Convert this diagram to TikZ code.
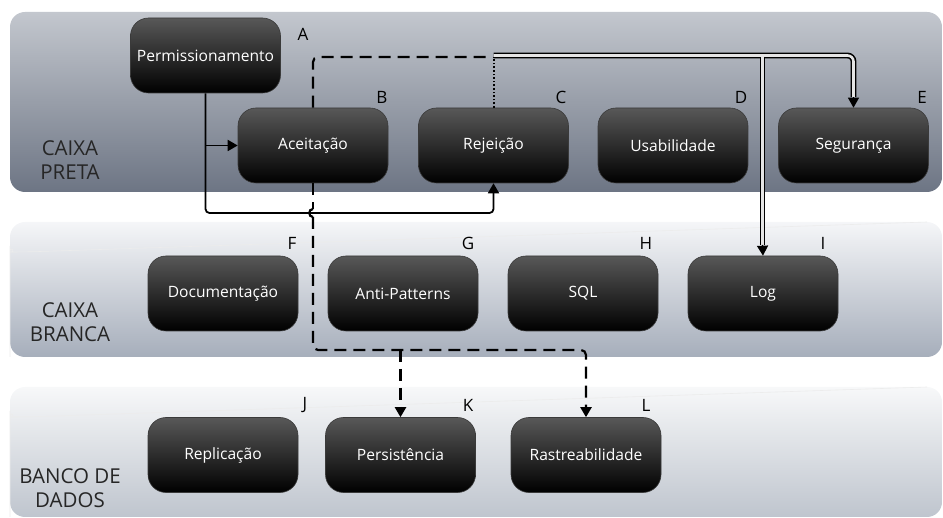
\documentclass[tikz,border=0pt]{standalone}
\usepackage{fontspec}
\setmainfont{Open Sans}
\usetikzlibrary{arrows.meta}
\definecolor{bandAtop}{HTML}{C3C7CE}
\definecolor{bandAbot}{HTML}{6D7584}
\definecolor{bandBtop}{HTML}{F5F6F8}
\definecolor{bandBbot}{HTML}{A6AEBB}
\definecolor{bandCtop}{HTML}{F7F8F9}
\definecolor{bandCbot}{HTML}{BFC5CE}
\definecolor{boxtop}{HTML}{585858}
\definecolor{boxmid}{HTML}{1A1A1A}
\definecolor{boxedge}{HTML}{3A3A3A}
\begin{document}
\begin{tikzpicture}[x=1pt,y=-1pt,
  stepbox/.style={rectangle, rounded corners=18pt, minimum width=150pt, minimum height=75pt,
    top color=boxtop, middle color=boxmid, bottom color=black, draw=boxedge, line width=0.6pt,
    text=white, font=\fontsize{15.6}{18}\selectfont, inner sep=0pt},
  letter/.style={font=\fontsize{17}{19}\selectfont, text=black, inner sep=0pt},
  bandlbl/.style={font=\fontsize{20.5}{24}\selectfont, align=center, text=black!85, inner sep=0pt},
  conn/.style={line width=1.8pt, rounded corners=4pt},
  dconn/.style={line width=2.2pt, dash pattern=on 12pt off 7pt, rounded corners=5pt},
  tip/.style={-{Triangle[length=10pt,width=11pt]}},
  dbl/.style={double=white!80!gray, double distance=2.6pt, line width=1.6pt, rounded corners=6pt}
]
\useasboundingbox (0,0) rectangle (943,518);
% bands
\shade[top color=bandAtop, bottom color=bandAbot, rounded corners=15pt] (10,12) rectangle (942,192);
\shade[top color=bandBtop, bottom color=bandBbot, rounded corners=15pt] (10,222) rectangle (942,357);
\shade[top color=bandCtop, bottom color=bandCbot, rounded corners=15pt] (10,387) rectangle (942,517);
\draw[white!85!gray, line width=0.6pt, rounded corners=15pt] (10,357) -- (10,237) arc[start angle=180,end angle=90,radius=15] -- (927,222);
\draw[white!85!gray, line width=0.6pt, rounded corners=15pt] (10,517) -- (10,402) arc[start angle=180,end angle=90,radius=15] -- (927,387);

\node[bandlbl] (lblA) at (70,160) {CAIXA\\PRETA};
\node[bandlbl] (lblB) at (70,322) {CAIXA\\BRANCA};
\node[bandlbl] (lblC) at (70,488) {BANCO DE\\DADOS};

% boxes
\node[stepbox] (perm) at (205.5,55.5) {Permissionamento};
\node[stepbox] (acei) at (313,145.5) {Aceitação};
\node[stepbox] (rej) at (493.5,145.5) {Rejeição};
\node[stepbox] (usab) at (673,145.5) {Usabilidade};
\node[stepbox] (seg) at (853.5,145.5) {Segurança};
\node[stepbox] (doc) at (223,293.5) {Documentação};
\node[stepbox] (anti) at (403,293.5) {Anti-Patterns};
\node[stepbox] (sql) at (583,293.5) {SQL};
\node[stepbox] (log) at (763,293.5) {Log};
\node[stepbox] (repl) at (223,455) {Replicação};
\node[stepbox] (pers) at (400.5,455) {Persistência};
\node[stepbox] (rast) at (586,455) {Rastreabilidade};

% letters
\node[letter] (lA) at (303,34) {A};
\node[letter] (lB) at (382,97) {B};
\node[letter] (lC) at (561,97) {C};
\node[letter] (lD) at (741,97) {D};
\node[letter] (lE) at (922,97) {E};
\node[letter] (lF) at (292,243) {F};
\node[letter] (lG) at (468,243) {G};
\node[letter] (lH) at (646,243) {H};
\node[letter] (lI) at (823,243) {I};
\node[letter] (lJ) at (305,405) {J};
\node[letter] (lK) at (468,405) {K};
\node[letter] (lL) at (646,405) {L};

% coordinates
\coordinate (pdown) at (205.5,213);
\coordinate (rdown) at (493.5,213);
\coordinate (dtop) at (313,57);
\coordinate (dend) at (490,57);
\coordinate (hopA) at (313,209);
\coordinate (hopB) at (313,217);
\coordinate (dbot) at (313,350);
\coordinate (dright) at (586,350);
\coordinate (dpers) at (400.5,350);
\coordinate (dotTop) at (493.5,57);
\coordinate (dblStart) at (493.5,55.5);
\coordinate (dblCorner) at (853.5,55.5);
\coordinate (segArr) at (853.5,97);
\coordinate (logTop) at (762.5,57);
\coordinate (logArr) at (762.5,245);

% solid connectors
\draw[conn, tip] (perm.south) -- (pdown) -- (rdown) -- (rej.south);
\draw[conn, tip] (perm.south |- acei.west) -- (acei.west);

% dashed connectors
\draw[dconn] (acei.north) -- (dtop) -- (dend);
\draw[dconn] (acei.south) -- (hopA);
\draw[line width=2.2pt] (hopA) to[out=180,in=180,looseness=1.6] (hopB);
\draw[dconn, tip] (hopB) -- (dbot) -- (dright) -- (rast.north);
\draw[dconn, tip] (dpers) -- (pers.north);

% dotted
\draw[line width=2pt, dash pattern=on 1.6pt off 2pt] (rej.north) -- (dotTop);

% double lines
\draw[dbl] (dblStart) -- (dblCorner) -- (segArr);
\draw[line width=1.2pt, tip] (segArr) -- (seg.north);
\draw[dbl] (logTop) -- (logArr);
\draw[line width=1.2pt, tip] (logArr) -- (log.north);
\end{tikzpicture}
\end{document}
